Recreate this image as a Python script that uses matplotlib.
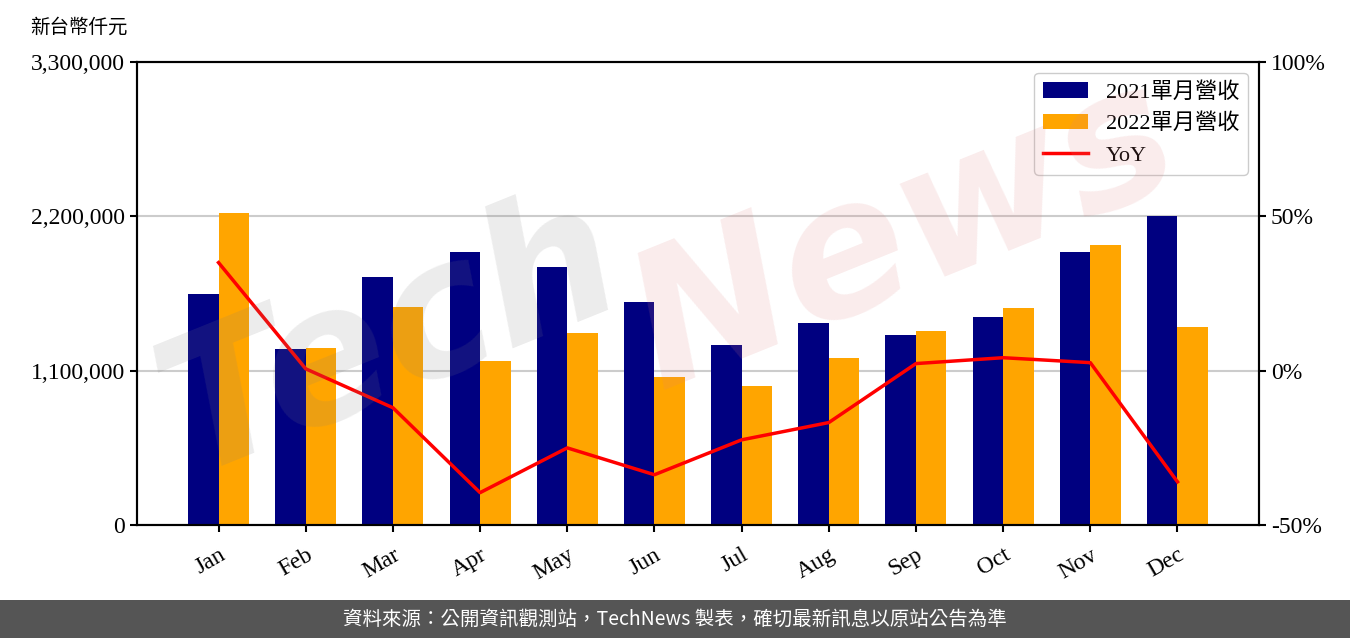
"""
Monthly revenue 2021 vs 2022 with YoY line (right axis).
Writes out.png at 1350x638.
"""

import numpy as np
import matplotlib
matplotlib.use("Agg")
import matplotlib.pyplot as plt
from matplotlib.ticker import FuncFormatter

SERIF = ["Liberation Serif", "Noto Sans CJK TC", "DejaVu Sans"]
SANS  = ["Noto Sans CJK TC", "DejaVu Sans"]
plt.rcParams["font.family"] = SERIF

# ---- data ----
months   = ["Jan", "Feb", "Mar", "Apr", "May", "Jun",
            "Jul", "Aug", "Sep", "Oct", "Nov", "Dec"]
rev_2021 = [1646000, 1254000, 1768000, 1946000, 1839000, 1589000,
            1283000, 1440000, 1354000, 1483000, 1946000, 2202000]
rev_2022 = [2224000, 1262000, 1554000, 1169000, 1368000, 1055000,
            991000, 1190000, 1383000, 1547000, 1996000, 1411000]
yoy_pct  = [35.0, 0.6, -12.0, -39.5, -25.0, -33.7,
            -22.4, -16.8, 2.3, 4.2, 2.6, -36.0]
left_ticks  = [0, 1100000, 2200000, 3300000]
right_ticks = [-50, 0, 50, 100]

C_2021 = "#000080"
C_2022 = "#ffa500"
C_YOY  = "#ff0000"

fig = plt.figure(figsize=(13.5, 6.38), dpi=100)
ax = fig.add_axes([0.1015, 0.177, 0.8311, 0.726])
ax2 = ax.twinx()

x = np.arange(len(months))
w = 0.35
ax.bar(x - w / 2, rev_2021, width=w, color=C_2021, label="2021單月營收", zorder=2)
ax.bar(x + w / 2, rev_2022, width=w, color=C_2022, label="2022單月營收", zorder=2)

ax.set_ylim(0, 3300000)
ax.set_yticks(left_ticks)
ax.yaxis.set_major_formatter(FuncFormatter(lambda v, p: f"{v:,.0f}"))
ax.grid(axis="y", color="#cccccc", linewidth=1.5, zorder=0)
ax.set_axisbelow(True)
ax.set_xticks(x)
ax.set_xticklabels(months, rotation=30, ha="right", rotation_mode="anchor")
ax.tick_params(axis="both", labelsize=17, width=1.5, length=5)
ax.tick_params(axis="x", pad=9)

ax2.plot(x, yoy_pct, color=C_YOY, linewidth=2.5, label="YoY", zorder=5)
ax2.set_ylim(-50, 100)
ax2.set_yticks(right_ticks)
ax2.yaxis.set_major_formatter(FuncFormatter(lambda v, p: f"{v:.0f}%"))
ax2.tick_params(axis="y", labelsize=17, width=1.5, length=5)

for a in (ax, ax2):
    for s in a.spines.values():
        s.set_linewidth(1.5)

# watermark
fig.text(0.29, 0.47, "Tech", fontsize=135, color="#808080", alpha=0.15,
         rotation=22, ha="center", va="center", style="italic",
         fontweight="bold", family=["DejaVu Sans"], zorder=3)
fig.text(0.67, 0.63, "News", fontsize=135, color="#e08080", alpha=0.15,
         rotation=22, ha="center", va="center", style="italic",
         fontweight="bold", family=["DejaVu Sans"], zorder=3)

h1, l1 = ax.get_legend_handles_labels()
h2, l2 = ax2.get_legend_handles_labels()
ax2.legend(h1 + h2, l1 + l2, loc="upper right",
           prop={"family": SERIF, "size": 16}, framealpha=1,
           edgecolor="#cccccc", borderaxespad=0.5, handlelength=2.0)

fig.text(0.022, 0.957, "新台幣仟元", fontsize=14, ha="left", va="center",
         family=SERIF)

# footer band
fig.patches.append(plt.Rectangle((0, 0), 1, 0.06, transform=fig.transFigure,
                                 facecolor="#555555", edgecolor="none", zorder=0))
fig.text(0.5, 0.03, "資料來源：公開資訊觀測站，TechNews 製表，確切最新訊息以原站公告為準",
         color="white", fontsize=14, ha="center", va="center", family=SANS)

fig.savefig("out.png", dpi=100, facecolor="white")
